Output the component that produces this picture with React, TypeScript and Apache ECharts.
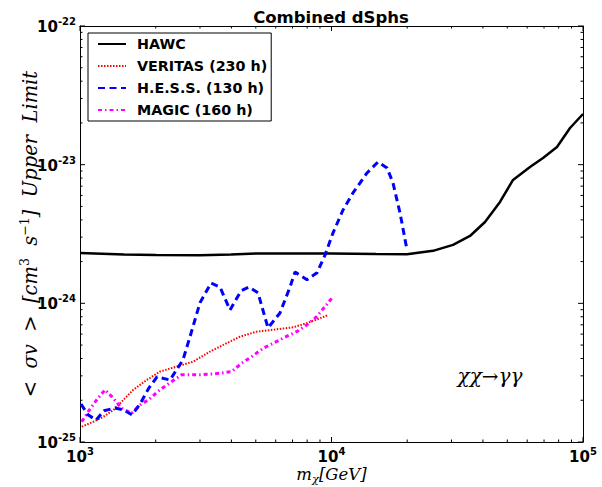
import React, { useEffect, useRef } from "react";
import * as echarts from "echarts";

const hawcX = [1000, 1496, 2005, 3000, 3983, 5010, 6966, 10000, 15030, 19950, 25330, 30420, 35540, 40770, 46770, 52690, 61550, 69340, 78810, 88800, 100000];
const hawcY = [2.31e-24, 2.25e-24, 2.23e-24, 2.22e-24, 2.25e-24, 2.29e-24, 2.29e-24, 2.29e-24, 2.27e-24, 2.26e-24, 2.39e-24, 2.64e-24, 3.06e-24, 3.86e-24, 5.39e-24, 7.76e-24, 9.61e-24, 1.117e-23, 1.341e-23, 1.839e-23, 2.32e-23];

const veritasX = [1016, 1130, 1238, 1357, 1487, 1629, 1842, 2080, 2424, 2822, 3288, 3831, 4327, 5041, 6055, 7049, 7966, 9002, 9712];
const veritasY = [1.29e-25, 1.40e-25, 1.52e-25, 1.70e-25, 2.01e-25, 2.38e-25, 2.80e-25, 3.22e-25, 3.50e-25, 3.80e-25, 4.49e-25, 5.16e-25, 5.75e-25, 6.25e-25, 6.50e-25, 6.72e-25, 7.19e-25, 7.81e-25, 8.25e-25];

const hessX = [1009, 1076, 1158, 1246, 1378, 1496, 1610, 1733, 1881, 2024, 2280, 2567, 2737, 3000, 3319, 3604, 3948, 4367, 4699, 5103, 5591, 6240, 6839, 7160, 7990, 8757, 9423, 10140, 11110, 12170, 13840, 15300, 16630, 17560, 18730, 19960];
const hessY = [1.88e-25, 1.57e-25, 1.44e-25, 1.68e-25, 1.76e-25, 1.70e-25, 1.57e-25, 1.88e-25, 2.46e-25, 2.95e-25, 2.80e-25, 3.91e-25, 5.73e-25, 1.01e-24, 1.40e-24, 1.31e-24, 8.96e-25, 1.23e-24, 1.31e-24, 1.19e-24, 6.65e-25, 8.52e-25, 1.31e-24, 1.68e-24, 1.48e-24, 1.66e-24, 2.23e-24, 3.22e-24, 4.71e-24, 6.25e-24, 8.71e-24, 1.046e-23, 9.47e-24, 7.38e-24, 4.48e-24, 2.43e-24];

const magicX = [1016, 1079, 1165, 1257, 1357, 1465, 1605, 1733, 1869, 2080, 2315, 2537, 3000, 3604, 4012, 4395, 4818, 5356, 5870, 6535, 7272, 7966, 8734, 9423, 10020];
const magicY = [1.40e-25, 1.66e-25, 2.01e-25, 2.38e-25, 2.07e-25, 1.75e-25, 1.61e-25, 1.85e-25, 2.01e-25, 2.38e-25, 2.73e-25, 3.05e-25, 3.05e-25, 3.13e-25, 3.22e-25, 3.70e-25, 4.13e-25, 4.75e-25, 5.16e-25, 5.70e-25, 6.25e-25, 6.99e-25, 8.02e-25, 9.47e-25, 1.088e-24];

const seriesNames = ["HAWC", "VERITAS (230 h)", "H.E.S.S. (130 h)", "MAGIC (160 h)"];

// y values are plotted in units of 1e-25 (ECharts rounding cannot handle 1e-25 directly)
const Y_UNIT_EXP = -25;
const Y_UNIT = 1e-25;
const X_MIN = 1e3, X_MAX = 1e5, Y_MIN = 1, Y_MAX = 1000;

function logTicks(minExp: number, maxExp: number) {
  const out: { v: number; major: boolean }[] = [];
  for (let e = minExp; e <= maxExp; e++) {
    const base = Math.pow(10, e);
    out.push({ v: base, major: true });
    if (e < maxExp) for (let m = 2; m <= 9; m++) out.push({ v: m * base, major: false });
  }
  return out;
}
const xTicks = logTicks(3, 5);
const yTicks = logTicks(0, 3);

const zip = (xs: number[], ys: number[]) => xs.map((x, i) => [x, ys[i] / Y_UNIT]);

const SERIF = "DejaVu Serif";
const labelRich = {
  b: { fontFamily: "DejaVu Sans", fontWeight: "bold", fontSize: 15, color: "#000", verticalAlign: "bottom", lineHeight: 17 },
  s: { fontFamily: "DejaVu Sans", fontWeight: "bold", fontSize: 10, color: "#000", verticalAlign: "bottom", lineHeight: 11, padding: [0, 0, 8, 0] },
};

export default function App() {
  const ref = useRef<HTMLDivElement>(null);
  useEffect(() => {
    if (!ref.current) return;
    const chart = echarts.init(ref.current, undefined, { renderer: "svg" });
    const xFmt = (v: number) => `{b|10}{s|${Math.round(Math.log10(v))}}`;
    const yFmt = (v: number) => `{b|10}{s|${Math.round(Math.log10(v)) + Y_UNIT_EXP}}`;
    const tickSeries = (data: number[][], isX: boolean) => ({
      type: "custom",
      silent: true,
      clip: false,
      data,
      renderItem: (params: any, api: any) => {
        const v = api.value(isX ? 0 : 1);
        const major = api.value(2) === 1;
        const len = major ? 5 : 2.5;
        const children: any[] = [];
        if (isX) {
          const b = api.coord([v, Y_MIN]);
          const t = api.coord([v, Y_MAX]);
          children.push({ type: "line", shape: { x1: b[0], y1: b[1], x2: b[0], y2: b[1] - len }, style: { stroke: "#000", lineWidth: 1 } });
          children.push({ type: "line", shape: { x1: t[0], y1: t[1], x2: t[0], y2: t[1] + len }, style: { stroke: "#000", lineWidth: 1 } });
        } else {
          const l = api.coord([X_MIN, v]);
          const r = api.coord([X_MAX, v]);
          children.push({ type: "line", shape: { x1: l[0], y1: l[1], x2: l[0] + len, y2: l[1] }, style: { stroke: "#000", lineWidth: 1 } });
          children.push({ type: "line", shape: { x1: r[0], y1: r[1], x2: r[0] - len, y2: r[1] }, style: { stroke: "#000", lineWidth: 1 } });
        }
        return { type: "group", children };
      },
    });
    const axisCommon = {
      type: "log",
      logBase: 10,
      axisLine: { show: true, lineStyle: { color: "#000", width: 1 } },
      axisTick: { show: false },
      splitLine: { show: false },
      minorTick: { show: false },
    };
    chart.setOption({
      animation: false,
      grid: { left: 80, right: 19, top: 26, bottom: 45, containLabel: false, outerBoundsMode: "none" },
      xAxis: [
        {
          ...axisCommon,
          min: X_MIN,
          max: X_MAX,
          axisLabel: { formatter: xFmt, rich: labelRich, margin: 5 },
          name: "{i|m}{sub|χ}{i|[GeV]}",
          nameLocation: "middle",
          nameMoveOverlap: false,
          nameGap: 24,
          nameTextStyle: {
            verticalAlign: "top",
            rich: {
              i: { fontFamily: SERIF, fontStyle: "italic", fontSize: 16.5, color: "#000", verticalAlign: "top", lineHeight: 20 },
              sub: { fontFamily: SERIF, fontStyle: "italic", fontSize: 11.5, color: "#000", verticalAlign: "top", lineHeight: 14, padding: [7, 0, 0, 0] },
            },
          },
        },
        { ...axisCommon, min: X_MIN, max: X_MAX, position: "top", axisLabel: { show: false } },
      ],
      yAxis: [
        {
          ...axisCommon,
          min: Y_MIN,
          max: Y_MAX,
          axisLabel: { formatter: yFmt, rich: labelRich, margin: 4 },
          name: "{i|<  σv  >  [cm}{s|3}{i|  s}{s|−1}{i|]  Upper  Limit}",
          nameLocation: "middle",
          nameRotate: 90,
          nameMoveOverlap: false,
          nameGap: 50,
          nameTextStyle: {
            verticalAlign: "middle",
            rich: {
              i: { fontFamily: SERIF, fontStyle: "italic", fontSize: 19.5, color: "#000", verticalAlign: "bottom", lineHeight: 21 },
              s: { fontFamily: SERIF, fontSize: 12.5, color: "#000", verticalAlign: "bottom", lineHeight: 12, padding: [0, 0, 10, 0] },
            },
          },
        },
        { ...axisCommon, min: Y_MIN, max: Y_MAX, position: "right", axisLabel: { show: false } },
      ],
      legend: {
        data: seriesNames,
        orient: "vertical",
        left: 88,
        top: 33,
        padding: [4, 4, 4, 9],
        itemWidth: 28,
        itemHeight: 14,
        itemGap: 8,
        backgroundColor: "#fff",
        borderColor: "#000",
        borderWidth: 1,
        borderRadius: 0,
        itemStyle: { color: "transparent", borderWidth: 0, opacity: 0 },
        textStyle: { fontFamily: "DejaVu Sans", fontWeight: "bold", fontSize: 14.3, color: "#000", padding: [0, 0, 0, 6] },
      },
      graphic: [
        {
          type: "text",
          x: 331,
          y: 17,
          style: { text: "Combined dSphs", fontFamily: "DejaVu Sans", fontWeight: "bold", fontSize: 16.5, fill: "#000", textAlign: "center", textVerticalAlign: "middle" },
        },
        {
          type: "text",
          x: 490,
          y: 376,
          style: { text: "χχ→γγ", fontFamily: SERIF, fontStyle: "italic", fontSize: 20, fill: "#000", textAlign: "center", textVerticalAlign: "middle" },
        },
      ],
      series: [
        { name: seriesNames[0], type: "line", symbol: "none", data: zip(hawcX, hawcY), lineStyle: { color: "#000", width: 2.5 }, itemStyle: { color: "#000" }, z: 3 },
        { name: seriesNames[1], type: "line", symbol: "none", data: zip(veritasX, veritasY), lineStyle: { color: "#ff0000", width: 2, type: [1.5, 1.5] }, itemStyle: { color: "#ff0000" }, z: 2 },
        { name: seriesNames[2], type: "line", symbol: "none", data: zip(hessX, hessY), lineStyle: { color: "#0000ff", width: 3, type: [7, 4.5] }, itemStyle: { color: "#0000ff" }, z: 4 },
        { name: seriesNames[3], type: "line", symbol: "none", data: zip(magicX, magicY), lineStyle: { color: "#ff00ff", width: 3, type: [4, 3, 1.5, 3] }, itemStyle: { color: "#ff00ff" }, z: 2 },
        tickSeries(xTicks.map((t) => [t.v, Y_MIN, t.major ? 1 : 0]), true),
        tickSeries(yTicks.map((t) => [X_MIN, t.v, t.major ? 1 : 0]), false),
      ],
    });
    return () => chart.dispose();
  }, []);
  return <div ref={ref} style={{ position: "fixed", left: 0, top: 0, width: 602, height: 487, background: "#fff" }} />;
}
